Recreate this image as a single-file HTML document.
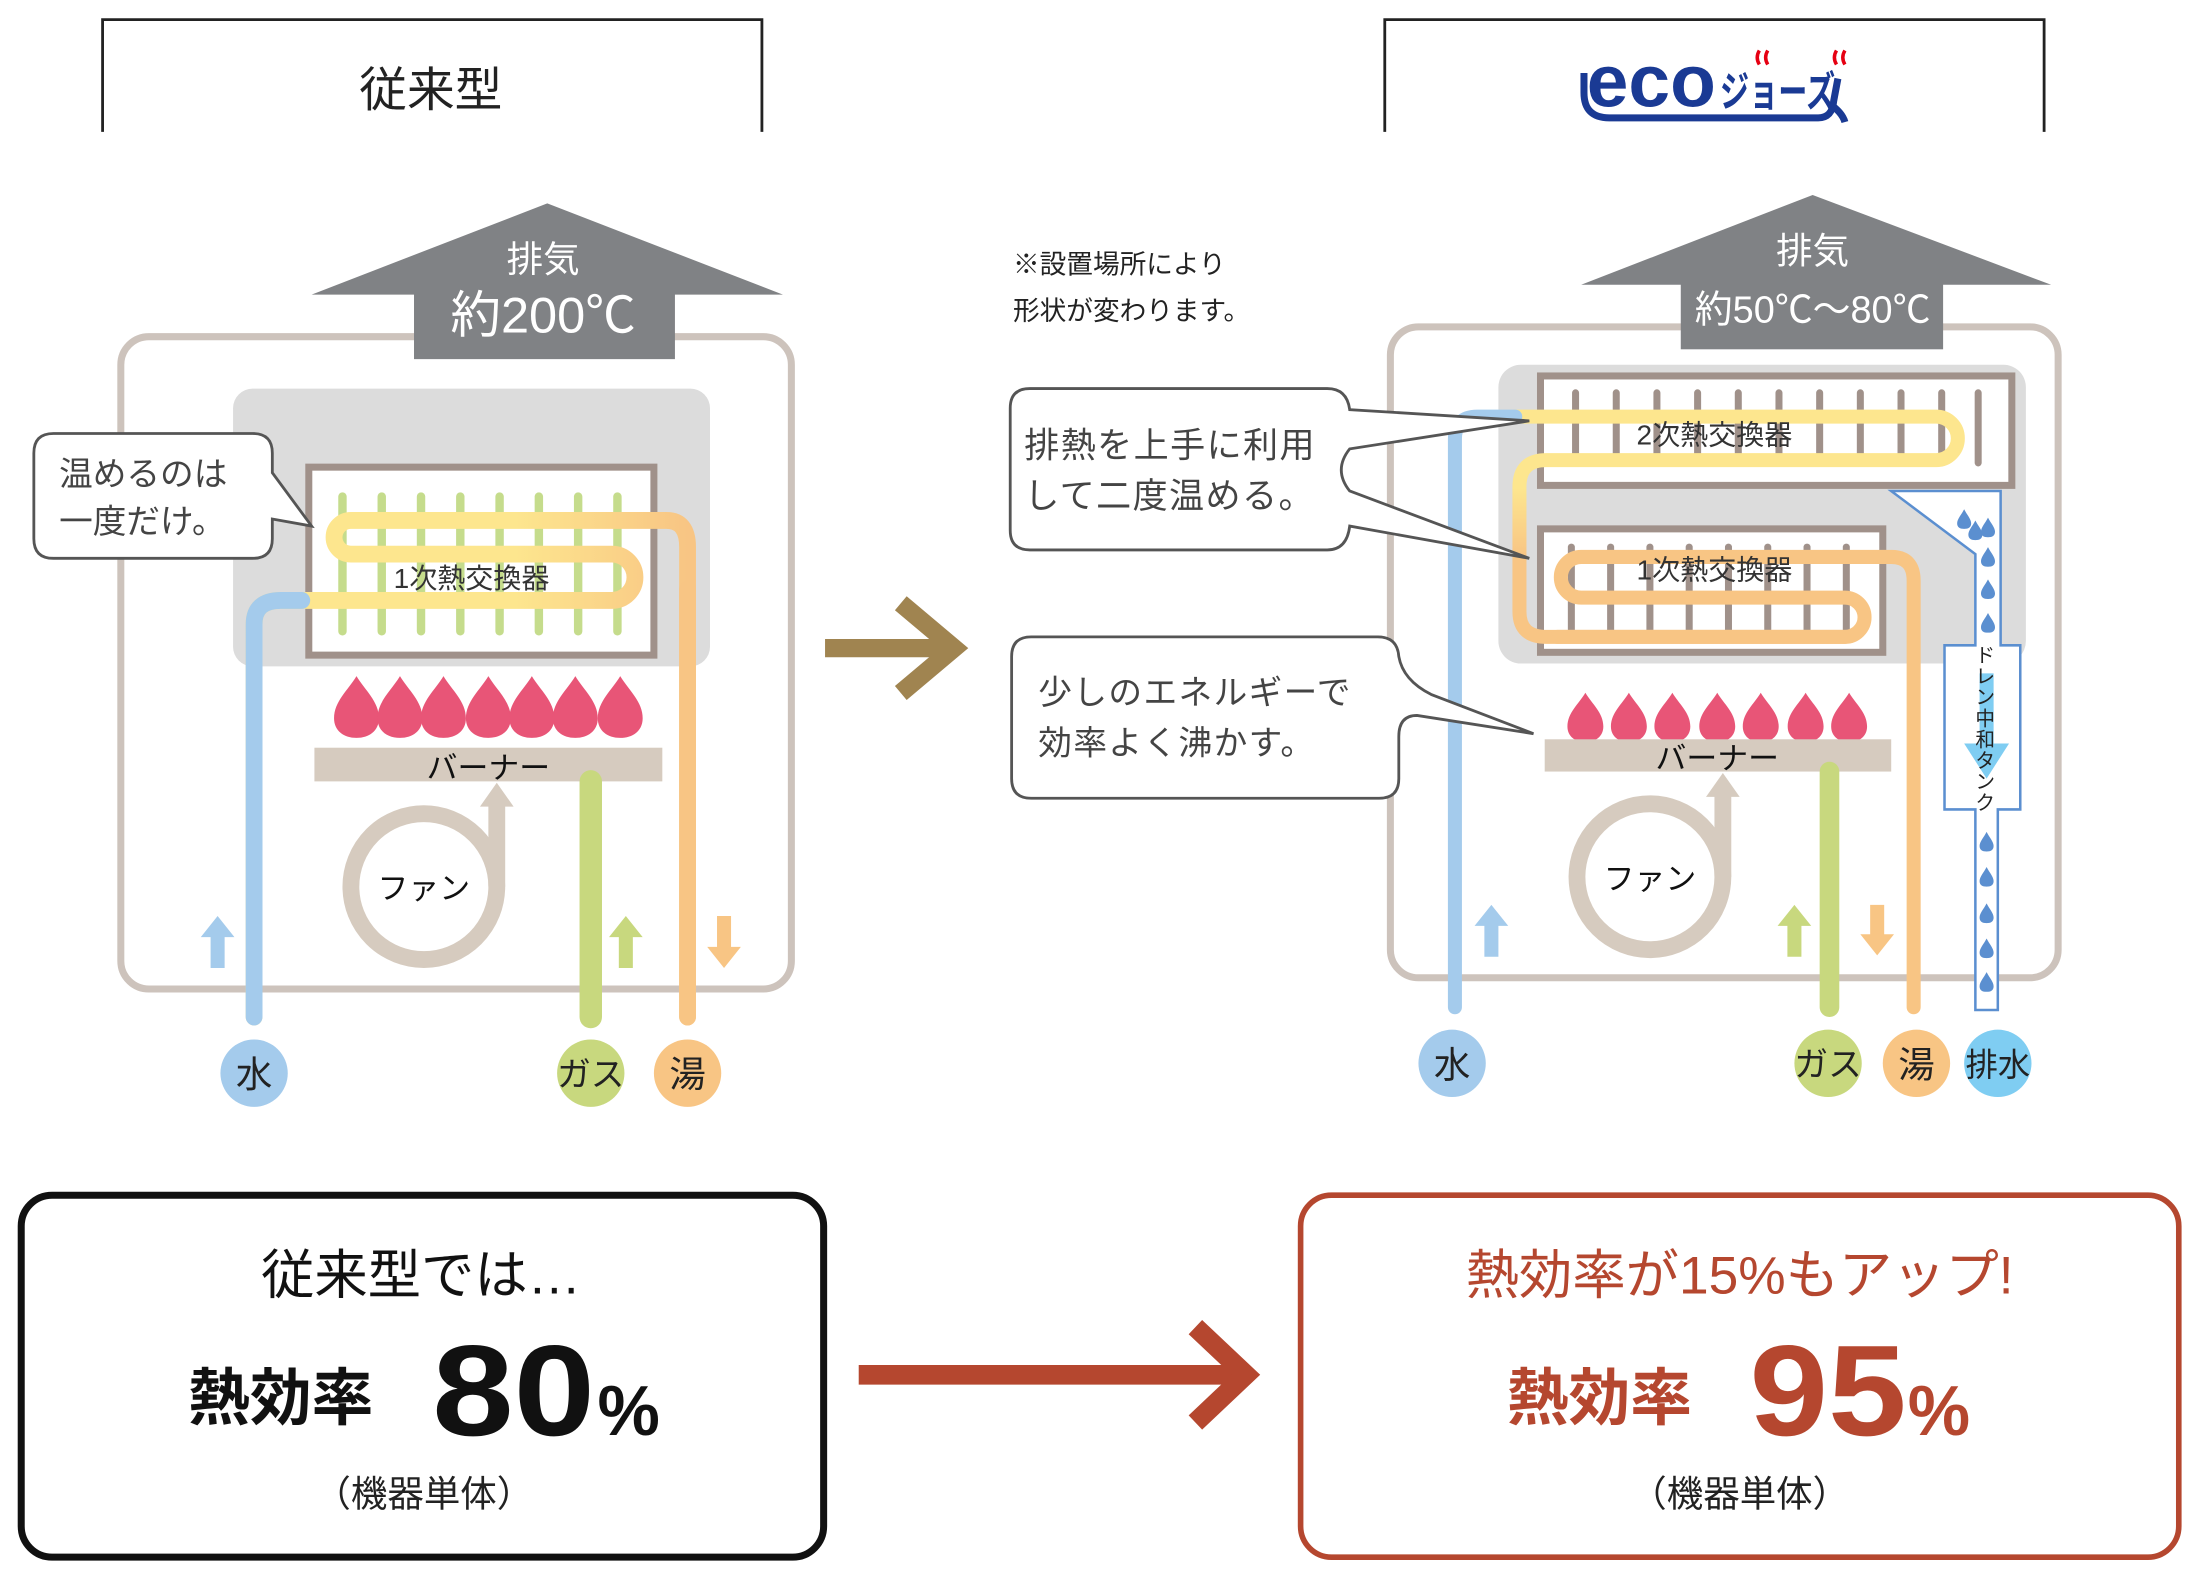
<!DOCTYPE html>
<html><head><meta charset="utf-8"><style>
html,body{margin:0;padding:0;background:#fff;}
svg{display:block;}
text{font-family:"Liberation Sans","Noto Sans CJK JP",sans-serif;}
</style></head><body>
<svg width="2200" height="1581" viewBox="0 0 1568 1127" xmlns="http://www.w3.org/2000/svg">
<defs>
<linearGradient id="gl" x1="0" x2="1" y1="0" y2="0"><stop offset="0" stop-color="#fde68e"/><stop offset="0.6" stop-color="#fde68e"/><stop offset="1" stop-color="#f8c584"/></linearGradient>
<linearGradient id="gr" gradientUnits="userSpaceOnUse" x1="0" x2="0" y1="300" y2="460"><stop offset="0" stop-color="#fde68e"/><stop offset="0.3" stop-color="#fde68e"/><stop offset="0.6" stop-color="#f8c584"/><stop offset="1" stop-color="#f8c584"/></linearGradient>
<path id="drop" d="M0,-24 C6,-14 16,-6 16,6 C16,15 9,20 0,20 C-9,20 -16,15 -16,6 C-16,-6 -6,-14 0,-24Z"/>
<path id="wd" d="M0,-7 C2,-3 5,0 5,3 C5,6 3,7 0,7 C-3,7 -5,6 -5,3 C-5,0 -2,-3 0,-7Z"/>
</defs>

<path d="M73,94 V14 H543 V94" fill="none" stroke="#222" stroke-width="2"/>
<text x="307" y="76" font-size="34" text-anchor="middle" fill="#222">従来型</text>

<rect x="86" y="240" width="478" height="465" rx="20" fill="none" stroke="#cdc3bc" stroke-width="5"/>
<polygon points="222,210 390,145 558,210" fill="#808285"/>
<rect x="295" y="209" width="186" height="47" fill="#808285"/>
<text x="387" y="194" font-size="26" text-anchor="middle" fill="#fff">排気</text>
<text x="387" y="237" font-size="36" text-anchor="middle" fill="#fff">約200℃</text>
<rect x="166" y="277" width="340" height="198" rx="14" fill="#dcdcdc"/>
<rect x="220" y="333" width="246" height="134" fill="#fff" stroke="#a0918a" stroke-width="5"/>
<g stroke="#c5dc8c" stroke-width="6" stroke-linecap="round">
<line x1="244" y1="354" x2="244" y2="450"/><line x1="272" y1="354" x2="272" y2="450"/><line x1="300" y1="354" x2="300" y2="450"/><line x1="328" y1="354" x2="328" y2="450"/><line x1="356" y1="354" x2="356" y2="450"/><line x1="384" y1="354" x2="384" y2="450"/><line x1="412" y1="354" x2="412" y2="450"/><line x1="440" y1="354" x2="440" y2="450"/>
</g>
<path d="M181,725 V445 Q181,428 200,428 H436 A16.5,16.5 0 0 0 436,395 H250 A12,12 0 0 1 250,371 H475 Q490,371 490,390 V725" fill="none" stroke="url(#gl)" stroke-width="12" stroke-linecap="round"/>
<path d="M181,725 V445 Q181,428 200,428 H215" fill="none" stroke="#a4cbec" stroke-width="12" stroke-linecap="round"/>
<path d="M490,420 V725" stroke="#f8c584" stroke-width="12" stroke-linecap="round"/>
<text x="336" y="419" font-size="20" text-anchor="middle" fill="#333">1次熱交換器</text>
<g fill="#e85577">
<use href="#drop" x="254" y="506"/><use href="#drop" x="285" y="506"/><use href="#drop" x="316" y="506"/><use href="#drop" x="348" y="506"/><use href="#drop" x="379" y="506"/><use href="#drop" x="410" y="506"/><use href="#drop" x="442" y="506"/>
</g>
<rect x="224" y="533" width="248" height="24" fill="#d6cbbf"/>
<text x="348" y="555" font-size="22" text-anchor="middle" fill="#111">バーナー</text>
<circle cx="302" cy="632" r="52" fill="none" stroke="#d6cbbf" stroke-width="12"/>
<path d="M354,632 V568" stroke="#d6cbbf" stroke-width="12"/>
<polygon points="342,575 354,558 366,575" fill="#d6cbbf"/>
<text x="302" y="641" font-size="22" text-anchor="middle" fill="#111">ファン</text>
<path d="M421,557 V725" stroke="#c8d87e" stroke-width="16" stroke-linecap="round"/>
<polygon points="143,668 155,653 167,668 160,668 160,690 150,690 150,668" fill="#a4cbec"/>
<polygon points="434,668 446,653 458,668 451,668 451,690 441,690 441,668" fill="#c8d87e"/>
<polygon points="504,675 516,690 528,675 521,675 521,653 511,653 511,675" fill="#f8c584"/>
<circle cx="181" cy="765" r="24" fill="#a4cbec"/><text x="181" y="775" font-size="26" text-anchor="middle" fill="#222">水</text>
<circle cx="421" cy="765" r="24" fill="#c8d87e"/><text x="421" y="774" font-size="24" text-anchor="middle" fill="#222">ガス</text>
<circle cx="490" cy="765" r="24" fill="#f8c584"/><text x="490" y="775" font-size="26" text-anchor="middle" fill="#222">湯</text>
<path d="M38,309 H180 Q194,309 194,323 V337 L222,375 L194,370 V384 Q194,398 180,398 H38 Q24,398 24,384 V323 Q24,309 38,309Z" fill="#fff" stroke="#555" stroke-width="2"/>
<text x="42" y="346" font-size="24" fill="#444">温めるのは</text>
<text x="42" y="380" font-size="24" fill="#444">一度だけ。</text>

<path d="M588,462 H678" stroke="#a08450" stroke-width="13"/>
<path d="M642,430 L680,462 L642,494" fill="none" stroke="#a08450" stroke-width="13"/>
<text x="722" y="195" font-size="19" fill="#222">※設置場所により</text>
<text x="722" y="228" font-size="19" fill="#222">形状が変わります。</text>

<path d="M987,94 V14 H1457 V94" fill="none" stroke="#222" stroke-width="2"/>
<g>
<path d="M1129,52 V66 Q1129,84 1147,84 H1296 Q1306,84 1307,72 L1310,56" fill="none" stroke="#1a3a94" stroke-width="5"/>
<path d="M1304,74 Q1313,80 1315,87" fill="none" stroke="#1a3a94" stroke-width="5"/>
<text x="1131" y="76" font-size="52" font-weight="bold" fill="#1a3a94" textLength="92" lengthAdjust="spacingAndGlyphs">eco</text>
<text x="1226" y="76" font-size="30" font-weight="bold" fill="#1a3a94" textLength="82" lengthAdjust="spacingAndGlyphs">ジョーズ</text>
<path d="M1254,36 q-3,5 0,10 M1260,36 q-3,5 0,10 M1309,36 q-3,5 0,10 M1315,36 q-3,5 0,10" stroke="#e60012" stroke-width="2.5" fill="none"/>
</g>

<rect x="991" y="233" width="476" height="464" rx="20" fill="none" stroke="#cdc3bc" stroke-width="5"/>
<polygon points="1127,203 1292,139 1462,203" fill="#808285"/>
<rect x="1198" y="202" width="187" height="47" fill="#808285"/>
<text x="1292" y="188" font-size="26" text-anchor="middle" fill="#fff">排気</text>
<text x="1292" y="230" font-size="27" text-anchor="middle" fill="#fff">約50℃～80℃</text>
<rect x="1068" y="260" width="376" height="213" rx="16" fill="#dcdcdc"/>
<rect x="1098" y="268" width="336" height="78" fill="#fff" stroke="#a0918a" stroke-width="5"/>
<rect x="1098" y="377" width="244" height="88" fill="#fff" stroke="#a0918a" stroke-width="5"/>
<g stroke="#a0918a" stroke-width="5" stroke-linecap="round">
<line x1="1123" y1="280" x2="1123" y2="330"/><line x1="1152" y1="280" x2="1152" y2="330"/><line x1="1181" y1="280" x2="1181" y2="330"/><line x1="1210" y1="280" x2="1210" y2="330"/><line x1="1239" y1="280" x2="1239" y2="330"/><line x1="1268" y1="280" x2="1268" y2="330"/><line x1="1297" y1="280" x2="1297" y2="330"/><line x1="1326" y1="280" x2="1326" y2="330"/><line x1="1355" y1="280" x2="1355" y2="330"/><line x1="1384" y1="280" x2="1384" y2="330"/><line x1="1410" y1="280" x2="1410" y2="330"/>
<line x1="1120" y1="390" x2="1120" y2="452"/><line x1="1148" y1="390" x2="1148" y2="452"/><line x1="1176" y1="390" x2="1176" y2="452"/><line x1="1204" y1="390" x2="1204" y2="452"/><line x1="1232" y1="390" x2="1232" y2="452"/><line x1="1260" y1="390" x2="1260" y2="452"/><line x1="1288" y1="390" x2="1288" y2="452"/><line x1="1316" y1="390" x2="1316" y2="452"/>
</g>
<path d="M1080,297 H1380 A15.5,15.5 0 0 1 1380,328 H1102 Q1083,328 1083,347 V436 Q1083,454 1102,454 H1315" fill="none" stroke="url(#gr)" stroke-width="10" stroke-linecap="round"/>
<path d="M1110,454 H1315 A14,14 0 0 0 1315,426 H1127 A14.5,14.5 0 0 1 1127,397 H1348 Q1364,397 1364,414 V718" fill="none" stroke="#f8c584" stroke-width="10" stroke-linecap="round"/>
<path d="M1037,718 V313 Q1037,297 1053,297 H1080" fill="none" stroke="#a4cbec" stroke-width="10" stroke-linecap="round"/>
<text x="1222" y="317" font-size="20" text-anchor="middle" fill="#333">2次熱交換器</text>
<text x="1222" y="413" font-size="20" text-anchor="middle" fill="#333">1次熱交換器</text>
<path d="M1348,350 H1426 V460 H1440 V577 H1424 V720 H1408 V577 H1386 V460 H1408 V395 Z" fill="#fff" stroke="#5b8fd0" stroke-width="1.8"/>
<polygon points="1400,530 1432,530 1416,555" fill="#7fcdf2"/>
<rect x="1411" y="480" width="10" height="52" fill="#7fcdf2"/>
<g fill="#5b8fd0">
<use href="#wd" x="1400" y="370"/><use href="#wd" x="1408" y="378"/><use href="#wd" x="1417" y="376"/>
<use href="#wd" x="1417" y="397"/><use href="#wd" x="1417" y="420"/><use href="#wd" x="1417" y="444"/>
<use href="#wd" x="1416" y="600"/><use href="#wd" x="1416" y="625"/><use href="#wd" x="1416" y="651"/><use href="#wd" x="1416" y="676"/><use href="#wd" x="1416" y="700"/>
</g>
<text font-size="14" fill="#222" text-anchor="middle">
<tspan x="1415" y="472">ド</tspan><tspan x="1415" y="487">レ</tspan><tspan x="1415" y="502">ン</tspan><tspan x="1415" y="517">中</tspan><tspan x="1415" y="532">和</tspan><tspan x="1415" y="547">タ</tspan><tspan x="1415" y="562">ン</tspan><tspan x="1415" y="577">ク</tspan>
</text>
<g fill="#e85577">
<use href="#drop" x="1130" y="513" transform="translate(1130,513) scale(0.8) translate(-1130,-513)"/>
<use href="#drop" x="1161" y="513" transform="translate(1161,513) scale(0.8) translate(-1161,-513)"/>
<use href="#drop" x="1192" y="513" transform="translate(1192,513) scale(0.8) translate(-1192,-513)"/>
<use href="#drop" x="1224" y="513" transform="translate(1224,513) scale(0.8) translate(-1224,-513)"/>
<use href="#drop" x="1255" y="513" transform="translate(1255,513) scale(0.8) translate(-1255,-513)"/>
<use href="#drop" x="1287" y="513" transform="translate(1287,513) scale(0.8) translate(-1287,-513)"/>
<use href="#drop" x="1318" y="513" transform="translate(1318,513) scale(0.8) translate(-1318,-513)"/>
</g>
<rect x="1101" y="527" width="247" height="23" fill="#d6cbbf"/>
<text x="1224" y="548" font-size="22" text-anchor="middle" fill="#111">バーナー</text>
<circle cx="1176" cy="625" r="52" fill="none" stroke="#d6cbbf" stroke-width="12"/>
<path d="M1228,625 V560" stroke="#d6cbbf" stroke-width="12"/>
<polygon points="1216,568 1228,551 1240,568" fill="#d6cbbf"/>
<text x="1176" y="634" font-size="22" text-anchor="middle" fill="#111">ファン</text>
<path d="M1304,550 V718" stroke="#c8d87e" stroke-width="14" stroke-linecap="round"/>
<polygon points="1051,660 1063,645 1075,660 1068,660 1068,682 1058,682 1058,660" fill="#a4cbec"/>
<polygon points="1267,660 1279,645 1291,660 1284,660 1284,682 1274,682 1274,660" fill="#c8d87e"/>
<polygon points="1326,666 1338,681 1350,666 1343,666 1343,645 1333,645 1333,666" fill="#f8c584"/>
<circle cx="1035" cy="758" r="24" fill="#a4cbec"/><text x="1035" y="768" font-size="26" text-anchor="middle" fill="#222">水</text>
<circle cx="1303" cy="758" r="24" fill="#c8d87e"/><text x="1303" y="767" font-size="24" text-anchor="middle" fill="#222">ガス</text>
<circle cx="1366" cy="758" r="24" fill="#f8c584"/><text x="1366" y="768" font-size="26" text-anchor="middle" fill="#222">湯</text>
<circle cx="1424" cy="758" r="24" fill="#7fcdf2"/><text x="1424" y="767" font-size="23" text-anchor="middle" fill="#222">排水</text>

<path d="M734,277 H946 Q960,277 962,292 L1090,300 L962,320 Q950,335 962,350 L1090,398 L962,375 Q960,392 946,392 H734 Q720,392 720,378 V291 Q720,277 734,277Z" fill="#fff" stroke="#555" stroke-width="2"/>
<text x="730" y="326" font-size="25" fill="#444" letter-spacing="1">排熱を上手に利用</text>
<text x="730" y="362" font-size="25" fill="#444" letter-spacing="1">して二度温める。</text>
<path d="M735,454 H982 Q996,454 997,468 Q1000,485 1020,495 L1093,523 L1010,510 Q997,510 997,525 V555 Q997,569 983,569 H735 Q721,569 721,555 V468 Q721,454 735,454Z" fill="#fff" stroke="#555" stroke-width="2"/>
<text x="740" y="502" font-size="24" fill="#444" letter-spacing="1">少しのエネルギーで</text>
<text x="740" y="538" font-size="24" fill="#444" letter-spacing="1">効率よく沸かす。</text>

<rect x="15" y="852" width="572" height="258" rx="22" fill="#fff" stroke="#111" stroke-width="5"/>
<text x="300" y="922" font-size="38" text-anchor="middle" fill="#111">従来型では…</text>
<text x="200" y="1012" font-size="44" font-weight="bold" text-anchor="middle" fill="#111">熱効率</text>
<text x="366" y="1023" font-size="92" font-weight="bold" text-anchor="middle" fill="#111" textLength="116" lengthAdjust="spacingAndGlyphs">80</text>
<text x="448" y="1023" font-size="50" font-weight="bold" text-anchor="middle" fill="#111">%</text>
<text x="302" y="1074" font-size="26" text-anchor="middle" fill="#222">（機器単体）</text>

<path d="M612,980 H885" stroke="#b5472f" stroke-width="14"/>
<path d="M852,946 L888,980 L852,1014" fill="none" stroke="#b5472f" stroke-width="14"/>

<rect x="927" y="852" width="626" height="258" rx="22" fill="#fff" stroke="#b5472f" stroke-width="4"/>
<text x="1240" y="922" font-size="38" text-anchor="middle" fill="#b5472f">熱効率が15%もアップ!</text>
<text x="1140" y="1012" font-size="44" font-weight="bold" text-anchor="middle" fill="#b5472f">熱効率</text>
<text x="1303" y="1023" font-size="92" font-weight="bold" text-anchor="middle" fill="#b5472f" textLength="112" lengthAdjust="spacingAndGlyphs">95</text>
<text x="1382" y="1023" font-size="50" font-weight="bold" text-anchor="middle" fill="#b5472f">%</text>
<text x="1240" y="1074" font-size="26" text-anchor="middle" fill="#222">（機器単体）</text>
</svg>
</body></html>
